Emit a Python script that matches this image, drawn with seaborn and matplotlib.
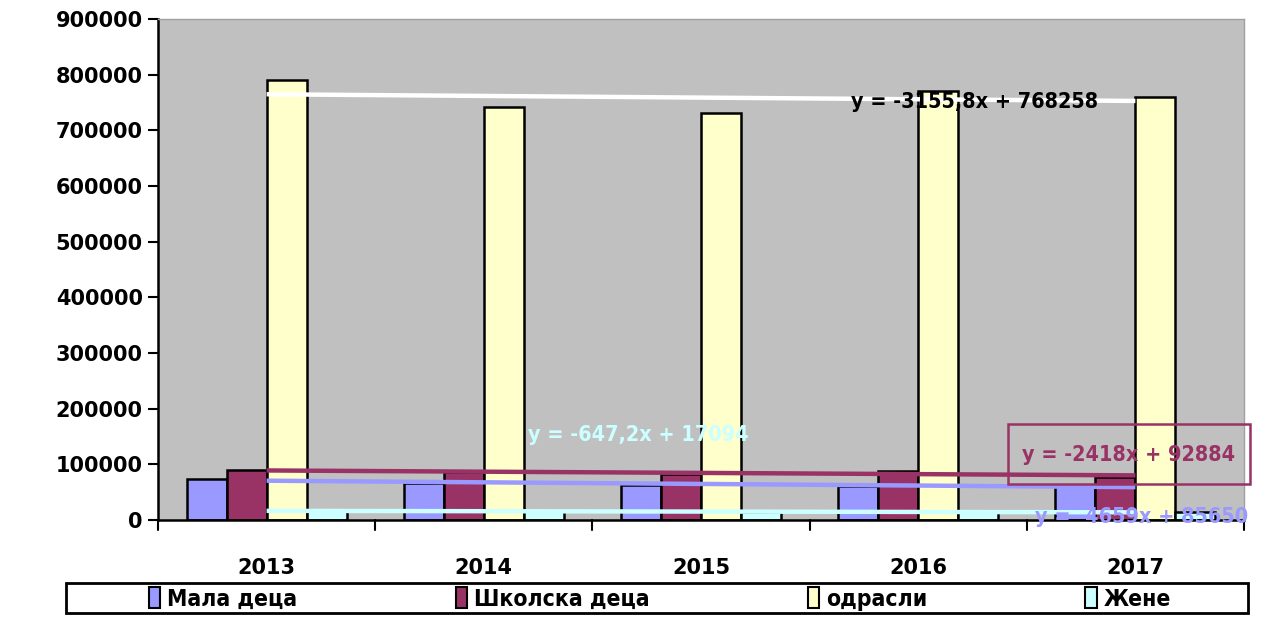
import matplotlib
matplotlib.use("Agg")
import matplotlib.pyplot as plt
import matplotlib.patches as mpatches
import numpy as np
import pandas as pd
import seaborn as sns

years = ["2013", "2014", "2015", "2016", "2017"]
series = ["Мала деца", "Школска деца", "одрасли", "Жене"]
mala_deca = [73000, 66000, 63000, 61000, 61000]
skolska_deca = [89000, 86000, 83000, 88000, 77000]
odrasli = [790000, 742000, 730500, 771000, 760500]
zene = [16400, 16000, 15000, 14400, 13900]
colors = ["#9999FF", "#993366", "#FFFFCC", "#CCFFFF"]
trend_colors = ["#9999FF", "#993366", "#FFFFFF", "#CCFFFF"]
trend_labels = ["y = -4659x + 85650", "y = -2418x + 92884",
                "y = -3155,8x + 768258", "y = -647,2x + 17094"]

values = [mala_deca, skolska_deca, odrasli, zene]
df = pd.DataFrame({
    "year": years * 4,
    "series": [s for s in series for _ in years],
    "value": [v for vals in values for v in vals],
})

sns.set_style("white")
plt.rcParams['font.family'] = ['DejaVu Sans']
plt.rcParams['text.color'] = 'black'
plt.rcParams['xtick.color'] = 'black'
plt.rcParams['ytick.color'] = 'black'

fig = plt.figure(figsize=(12.82, 6.2), dpi=100)
ax = fig.add_axes([158 / 1282, 1 - 520 / 620, (1244 - 158) / 1282, 501 / 620])
ax.set_facecolor("#C0C0C0")

sns.barplot(data=df, x="year", y="value", hue="series", palette=colors,
            saturation=1, width=0.737, edgecolor="black", linewidth=1.8, ax=ax,
            legend=False, zorder=2)

# linear trend lines, drawn from first to last category centre
xs = np.arange(1, len(years) + 1)
for vals, c in zip(values, trend_colors):
    k, b = np.polyfit(xs, vals, 1)
    ax.plot(xs - 1, k * xs + b, color=c, lw=3.2, zorder=4, solid_capstyle="butt")

ax.set_xlim(-0.5, len(years) - 0.5)
ax.set_ylim(0, 900000)
ax.set_yticks(np.arange(0, 900001, 100000))
ax.set_yticklabels([str(v) for v in range(0, 900001, 100000)],
                   fontsize=15, fontweight="bold")
ax.set_xticks(range(len(years)))
ax.set_xticklabels(years, fontsize=15, fontweight="bold")
ax.tick_params(axis="x", length=0, pad=27)
ax.tick_params(axis="y", length=7, width=1.5, direction="out", left=True, pad=4)
for xb in np.arange(-0.5, len(years), 1.0):
    ax.plot([xb, xb], [0, -0.02], transform=ax.get_xaxis_transform(),
            color="black", lw=1.5, clip_on=False)
ax.set_xlabel("")
ax.set_ylabel("")
for side in ["left", "bottom"]:
    ax.spines[side].set_color("black")
    ax.spines[side].set_linewidth(1.8)
for side in ["top", "right"]:
    ax.spines[side].set_color("#A0A0A0")
    ax.spines[side].set_linewidth(1)

# trend equations
eq = dict(ha="center", va="center", fontsize=15.5, fontweight="bold",
          fontstretch="condensed", zorder=5, transform=ax.transAxes)
ax.text(0.752, 0.834, trend_labels[2], color="black", **eq)
ax.text(0.442, 0.170, trend_labels[3], color="#CCFFFF", **eq)
ax.text(0.894, 0.130, trend_labels[1], color="#993366", clip_on=False, **eq)
ax.add_patch(mpatches.Rectangle((0.783, 0.072), 0.2225, 0.12, transform=ax.transAxes,
                                fill=False, ec="#993366", lw=1.8, clip_on=False,
                                zorder=5))
ax.text(0.906, 0.006, trend_labels[0], color="#9999FF", clip_on=False, **eq)

# legend with an outer box
fig.patches.append(mpatches.Rectangle((66 / 1282, 1 - 613 / 620), (1248 - 66) / 1282,
                                      30 / 620, transform=fig.transFigure,
                                      fill=False, ec="black", lw=2))
handles = [mpatches.Patch(facecolor=c, edgecolor="black", lw=1.5) for c in colors]
fig.legend(handles, series, loc="center", bbox_to_anchor=(660 / 1282, 1 - 599 / 620),
           ncol=4, frameon=False, handlelength=0.5, handleheight=1.0,
           handletextpad=0.3, columnspacing=6.9,
           prop={"family": "DejaVu Sans", "weight": "bold", "size": 16.5,
                 "stretch": "condensed"})

fig.savefig("out.png", dpi=100)
